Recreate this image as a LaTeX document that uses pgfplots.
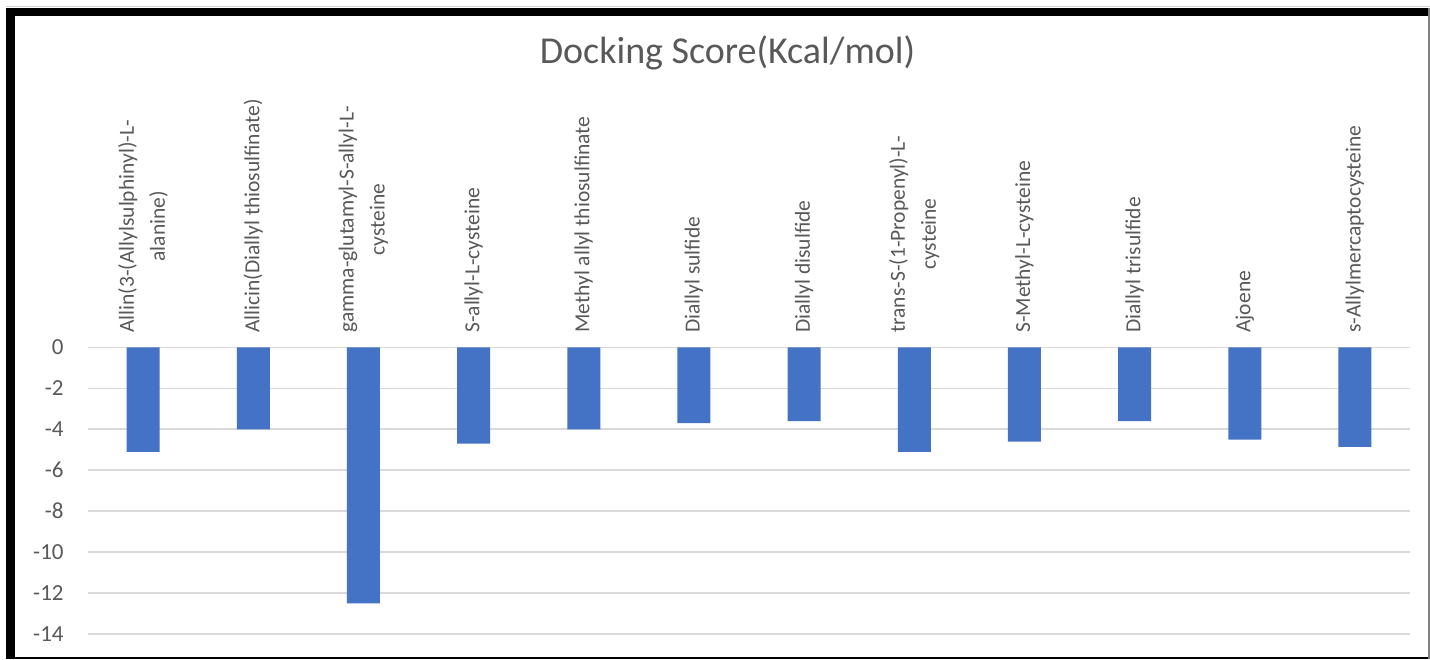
\documentclass[border=0pt]{standalone}
\usepackage{pgfplots}
\pgfplotsset{compat=1.18}
\usepackage{fontspec}
\setmainfont{Carlito}
\definecolor{barblue}{HTML}{4472C4}
\definecolor{gridgray}{HTML}{D9D9D9}
\definecolor{txtgray}{HTML}{595959}
\begin{document}
\begin{tikzpicture}[x=1pt,y=1pt]
\useasboundingbox (0,0) rectangle (715,329.5);
\fill[white] (0,0) rectangle (715,329.5);
\begin{axis}[
  at={(44pt,12.5pt)}, anchor=south west,
  scale only axis, width=661pt, height=143.25pt,
  xmin=-0.5, xmax=11.5, ymin=-14, ymax=0,
  ytick={-14,-12,...,0},
  xtick={0,...,11},
  xticklabels={{Allin(3-(Allylsulphinyl)-L-\\alanine)},
    {Allicin(Diallyl thiosulfinate)},
    {gamma-glutamyl-S-allyl-L-\\cysteine},
    {S-allyl-L-cysteine},
    {Methyl allyl thiosulfinate},
    {Diallyl sulfide},
    {Diallyl disulfide},
    {trans-S-(1-Propenyl)-L-\\cysteine},
    {S-Methyl-L-cysteine},
    {Diallyl trisulfide},
    {Ajoene},
    {s-Allylmercaptocysteine}},
  xticklabel pos=right,
  xticklabel style={rotate=90, anchor=west, align=center,
    inner xsep=7.25pt, inner ysep=0pt, text=txtgray,
    font=\fontsize{10.75}{15.5}\selectfont},
  yticklabel style={anchor=east, inner sep=0pt, xshift=-12pt, text=txtgray,
    font=\fontsize{11.5}{13}\selectfont},
  /pgf/number format/assume math mode=true,
  major tick length=0pt,
  axis line style={draw=none},
  ymajorgrids, grid style={gridgray, line width=0.9pt},
  clip=false,
]
\addplot[ybar, bar width=16.5pt, fill=barblue, draw=none] coordinates {
  (0,-5.1) (1,-4.0) (2,-12.5) (3,-4.7) (4,-4.0) (5,-3.7)
  (6,-3.6) (7,-5.1) (8,-4.6) (9,-3.6) (10,-4.5) (11,-4.85)
};
\end{axis}
\node[anchor=base, text=txtgray, font=\fontsize{19}{22}\selectfont, inner sep=0pt]
  at (363.75,297.5) {Docking Score(Kcal/mol)};
% frame
\draw[gray!35, line width=0.5pt] (3,326) -- (715,326);
\fill[black] (3,321.5) rectangle (715,325.5);
\fill[black] (3,0) rectangle (7.5,325.5);
\fill[black] (3,0) rectangle (715,1.2);
\fill[gray] (714,0) rectangle (715,325.5);
\end{tikzpicture}
\end{document}
